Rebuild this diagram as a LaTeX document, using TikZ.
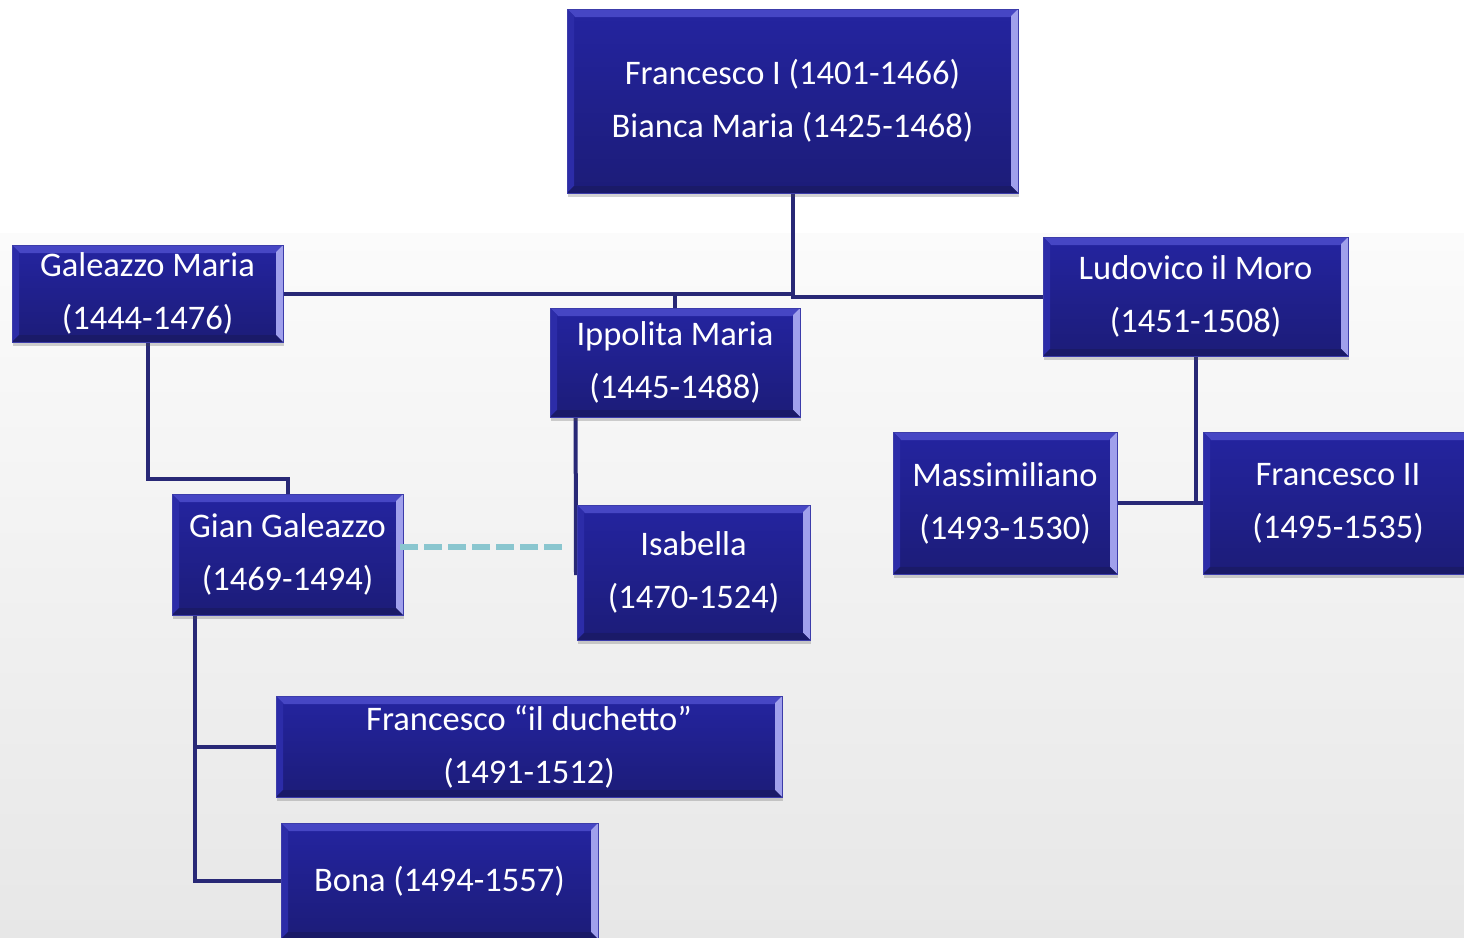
\documentclass[tikz,border=0pt]{standalone}
\usepackage{fontspec}
\setmainfont{Carlito}
\usetikzlibrary{shadows,calc}
\definecolor{boxtop}{RGB}{36,36,160}
\definecolor{boxbot}{RGB}{28,28,120}
\definecolor{bevtop}{RGB}{70,70,196}
\definecolor{bevright}{RGB}{160,160,236}
\definecolor{bevleft}{RGB}{44,44,168}
\definecolor{bevbot}{RGB}{26,26,104}
\definecolor{boxline}{RGB}{60,60,170}
\definecolor{linkcol}{RGB}{40,40,118}
\definecolor{dashcol}{RGB}{138,198,207}
\definecolor{bggray}{RGB}{231,231,231}
\definecolor{bgtop}{RGB}{251,251,251}
\pgfdeclarelayer{bg}
\pgfsetlayers{bg,main}
\tikzset{
  person/.style={rectangle, inner sep=0pt, text=white, align=center,
    font=\fontsize{34.5}{53}\selectfont,
    top color=boxtop, bottom color=boxbot, draw=boxline, line width=0.8pt,
    drop shadow={shadow xshift=1pt, shadow yshift=-4pt, opacity=0.25, fill=black!70},
    path picture={
      \coordinate (nw) at (path picture bounding box.north west);
      \coordinate (ne) at (path picture bounding box.north east);
      \coordinate (sw) at (path picture bounding box.south west);
      \coordinate (se) at (path picture bounding box.south east);
      \fill[bevtop] (nw) -- (ne) -- ($(ne)+(-8pt,-8pt)$) -- ($(nw)+(8pt,-8pt)$) -- cycle;
      \fill[bevright] (ne) -- (se) -- ($(se)+(-7pt,7pt)$) -- ($(ne)+(-7pt,-7pt)$) -- cycle;
      \fill[bevleft] (nw) -- (sw) -- ($(sw)+(7pt,7pt)$) -- ($(nw)+(7pt,-7pt)$) -- cycle;
      \fill[bevbot] (sw) -- (se) -- ($(se)+(-7pt,7pt)$) -- ($(sw)+(7pt,7pt)$) -- cycle;
    }},
  link/.style={draw=linkcol, line width=4pt},
  spouselink/.style={draw=dashcol, line width=6pt, dash pattern=on 18pt off 6pt}
}
\begin{document}
\begin{tikzpicture}[x=1pt,y=-1pt]
\useasboundingbox (0,0) rectangle (1464,937);
\clip (0,0) rectangle (1464,937);
\begin{pgfonlayer}{bg}
\fill[white] (0,0) rectangle (1464,234);
\shade[top color=bgtop, bottom color=bggray] (0,233) rectangle (1464,937);
\end{pgfonlayer}

\node[person, minimum width=451pt, minimum height=184pt] (top) at (792.5,101) {Francesco I (1401-1466)\\Bianca Maria (1425-1468)};
\node[person, minimum width=271pt, minimum height=97pt] (gal) at (147.5,293.5) {Galeazzo Maria\\(1444-1476)};
\node[person, minimum width=250pt, minimum height=109pt] (ipp) at (675,362.5) {Ippolita Maria\\(1445-1488)};
\node[person, minimum width=305pt, minimum height=119pt] (lud) at (1195.5,296.5) {Ludovico il Moro\\(1451-1508)};
\node[person, minimum width=231pt, minimum height=121pt] (gian) at (287.5,554.5) {Gian Galeazzo\\(1469-1494)};
\node[person, minimum width=233pt, minimum height=135pt] (isa) at (693.5,572.5) {Isabella\\(1470-1524)};
\node[person, minimum width=224pt, minimum height=142pt] (mas) at (1005,503) {Massimiliano\\(1493-1530)};
\node[person, minimum width=270pt, minimum height=142pt] (fr2) at (1338,503) {Francesco II\\(1495-1535)};
\node[person, minimum width=506pt, minimum height=101pt] (duc) at (529,746.5) {Francesco “il duchetto”\\(1491-1512)};
\node[person, minimum width=317pt, minimum height=116pt] (bona) at (439.5,881) {Bona (1494-1557)};

\coordinate (ippdown) at ([xshift=26pt]ipp.south west);
\coordinate (isaside) at (576,575);
\coordinate (gianv) at ([xshift=23pt]gian.south west);

\begin{pgfonlayer}{bg}
\draw[link] (top.south) |- (gal.east);
\draw[link] (gal.east -| ipp.north) -- (ipp.north);
\draw[link] (top.south) |- (lud.west);
\draw[link] (gal.south) -- ++(0,137) -| (gian.north);
\draw[link] (ippdown) -- (isaside);
\draw[link] (lud.south) |- (mas.east);
\draw[link] (mas.east) -- (fr2.west);
\draw[link] (gianv) |- (duc.west);
\draw[link] (gianv) |- (bona.west);
\end{pgfonlayer}
\draw[spouselink, shorten >=15pt, shorten <=-3pt] ([yshift=7.5pt]gian.east) -- ([yshift=7.5pt]gian.east -| isa.west);
\end{tikzpicture}
\end{document}
